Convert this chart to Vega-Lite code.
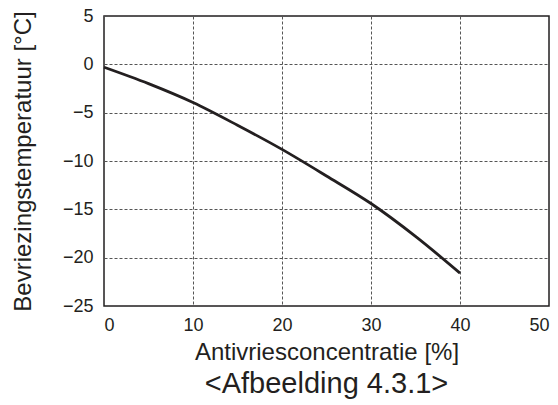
{
  "$schema": "https://vega.github.io/schema/vega-lite/v6.json",
  "width": 445,
  "height": 290,
  "autosize": "none",
  "padding": {"left": 104, "top": 16, "right": 9, "bottom": 99},
  "background": "white",
  "title": {
    "text": "<Afbeelding 4.3.1>",
    "orient": "bottom",
    "anchor": "middle",
    "offset": 6,
    "font": "Liberation Sans",
    "fontSize": 29,
    "fontWeight": "normal",
    "color": "#231f20"
  },
  "data": {
    "values": [
      {"concentratie": 0, "temperatuur": -0.3},
      {"concentratie": 5, "temperatuur": -2.0},
      {"concentratie": 10, "temperatuur": -3.95},
      {"concentratie": 15, "temperatuur": -6.3},
      {"concentratie": 20, "temperatuur": -8.8},
      {"concentratie": 25, "temperatuur": -11.55},
      {"concentratie": 30, "temperatuur": -14.4},
      {"concentratie": 35, "temperatuur": -17.8},
      {"concentratie": 40, "temperatuur": -21.6}
    ]
  },
  "mark": {"type": "line", "interpolate": "monotone", "color": "#231f20", "strokeWidth": 2.8},
  "encoding": {
    "x": {
      "field": "concentratie",
      "type": "quantitative",
      "scale": {"domain": [0, 50], "nice": false},
      "axis": {
        "title": "Antivriesconcentratie [%]",
        "values": [0, 10, 20, 30, 40, 50],
        "titleY": 53,
        "titleBaseline": "alphabetic",
        "labelPadding": 10
      }
    },
    "y": {
      "field": "temperatuur",
      "type": "quantitative",
      "scale": {"domain": [-25, 5], "nice": false},
      "axis": {
        "title": "Bevriezingstemperatuur [°C]",
        "values": [-25, -20, -15, -10, -5, 0, 5],
        "titleX": -74,
        "titleBaseline": "alphabetic",
        "titleLimit": 0,
        "labelPadding": 11
      }
    }
  },
  "config": {
    "view": {"stroke": "#231f20", "strokeWidth": 1.5},
    "axis": {
      "domain": false,
      "ticks": false,
      "grid": true,
      "gridColor": "#555555",
      "gridDash": [3, 2],
      "gridWidth": 1,
      "gridOpacity": 1,
      "labelFont": "Liberation Sans",
      "labelFontSize": 18,
      "labelColor": "#231f20",
      "titleFont": "Liberation Sans",
      "titleFontSize": 24,
      "titleFontWeight": "normal",
      "titleColor": "#231f20"
    }
  }
}
